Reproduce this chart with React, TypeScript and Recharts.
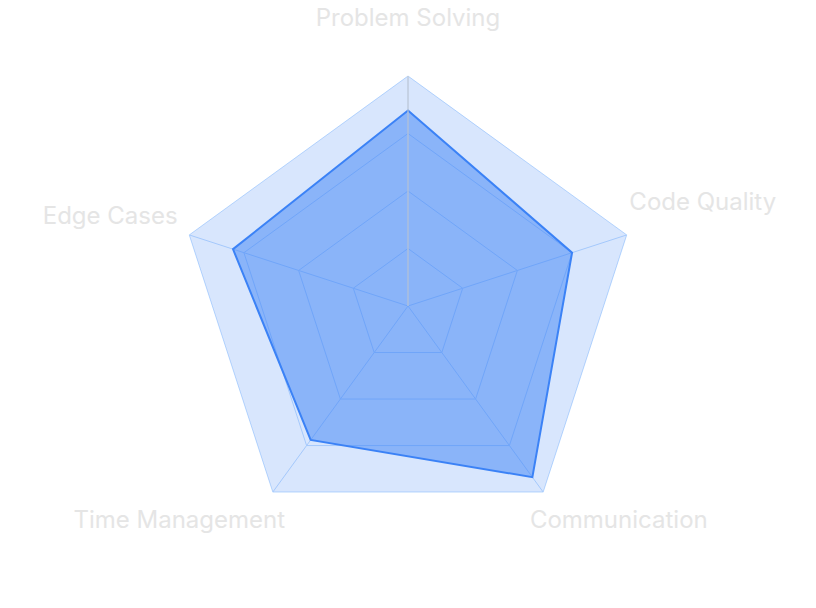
import {
  RadarChart,
  Radar,
  PolarGrid,
  PolarAngleAxis,
  PolarRadiusAxis,
} from "recharts";

const skills = [
  "Problem Solving",
  "Code Quality",
  "Communication",
  "Time Management",
  "Edge Cases",
];
const scores = [85, 75, 92, 72, 80];
const maxScores = [100, 100, 100, 100, 100];

const data = skills.map((skill, i) => ({
  skill,
  score: scores[i],
  max: maxScores[i],
}));

// labels sit further out than recharts puts them, nudge by side
function SkillTick(props: any) {
  const { x, y, cy, textAnchor, payload } = props;
  let dx = 0;
  let dy = 0;
  if (textAnchor === "middle") {
    dy = -42;
  } else if (textAnchor === "start") {
    dx = y < cy ? -5 : -18;
    dy = y < cy ? -22 : 29;
  } else {
    dx = y < cy ? -4 : 17;
    dy = y < cy ? -8 : 29;
  }
  return (
    <text
      x={x + dx}
      y={y + dy}
      textAnchor={textAnchor}
      fill="#e5e5e5"
      fontSize={24}
      fontFamily="Inter, sans-serif"
    >
      {payload.value}
    </text>
  );
}

export default function App() {
  // cancel the body margin so the svg spans the whole page
  return (
    <div style={{ width: 816, height: 608, margin: -8 }}>
      <RadarChart
        width={816}
        height={608}
        data={data}
        cx={408}
        cy={306}
        outerRadius={230}
      >
        <PolarGrid stroke="#bfdbfe" />
        <PolarAngleAxis dataKey="skill" tick={SkillTick} tickLine={false} />
        <PolarRadiusAxis
          angle={90}
          domain={[0, 100]}
          tick={false}
          axisLine={{ stroke: "#cccccc" }}
        />
        <Radar
          dataKey="max"
          stroke="none"
          fill="#3b82f6"
          fillOpacity={0.2}
          isAnimationActive={false}
        />
        <Radar
          dataKey="score"
          stroke="#3b82f6"
          strokeWidth={2}
          fill="#3b82f6"
          fillOpacity={0.5}
          isAnimationActive={false}
        />
      </RadarChart>
    </div>
  );
}
